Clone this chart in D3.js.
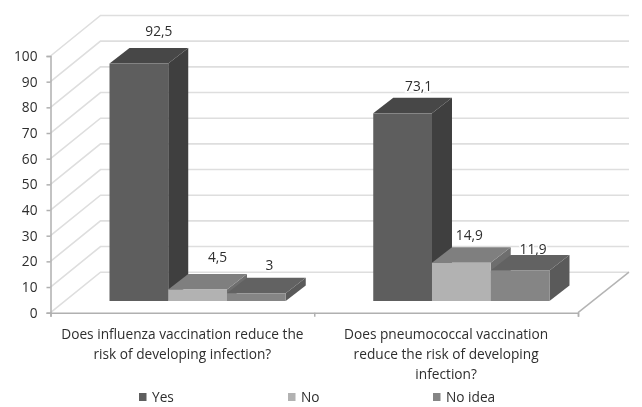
<!DOCTYPE html>
<html><head><meta charset="utf-8">
<script src="https://cdn.jsdelivr.net/npm/d3@7"></script>
<style>html,body{margin:0;background:#fff}svg{display:block;filter:blur(.35px)}text{font-family:"Open Sans",sans-serif;fill:#2e2e2e}</style>
</head><body><svg id="c" width="642" height="407"></svg>
<script>
const categories=[["Does influenza vaccination reduce the","risk of developing infection?"],["Does pneumococcal vaccination","reduce the risk of developing","infection?"]];
const seriesNames=["Yes","No","No idea"];
const yes=[92.5,73.1];
const no=[4.5,14.9];
const noIdea=[3,11.9];
const yTicks=[0,10,20,30,40,50,60,70,80,90,100];
const valueLabels=[["92,5","73,1"],["4,5","14,9"],["3","11,9"]];

const frontCols=["#5e5e5e","#b2b2b2","#858585"],topCols=["#474747","#7f7f7f","#626262"],sideCols=["#3f3f3f","#6e6e6e","#5a5a5a"];
const wall={dx:50,dy:-40.5};
const barDepth={dx:20,dy:-15.5};
const left=50.5,right=578,zeroY=312.7,hundredY=56;
const fs=13.7;
const svg=d3.select("#c");
const y=d3.scaleLinear().domain([0,100]).range([zeroY,hundredY]);
const barY=d3.scaleLinear().domain([0,100]).range([301,301-(zeroY-hundredY)]);
const x0=d3.scaleBand().domain(d3.range(categories.length)).range([left,right]);
const bw=x0.bandwidth()/4.49;
const barX=(c,s)=>x0(c)+59+s*bw;

const grid=svg.append("g").attr("fill","none").attr("stroke","#dedede").attr("stroke-width",1.6);
yTicks.forEach(t=>{
  grid.append("path").attr("d",d3.line()([[left,y(t)],[left+wall.dx,y(t)+wall.dy],[right+wall.dx+1,y(t)+wall.dy]]));
});
svg.append("path").attr("fill","none").attr("stroke","#b4b4b4").attr("stroke-width",1.5)
  .attr("d",d3.line()([[right,zeroY],[right+wall.dx+1,zeroY+wall.dy]]));

const ax=d3.axisLeft(y).tickValues(yTicks).tickSize(4).tickPadding(9);
const gy=svg.append("g").attr("transform",`translate(${left},0)`).call(ax);
gy.selectAll("path,line").attr("stroke","#b0b0b0").attr("stroke-width",1.5);
gy.selectAll("text").attr("font-size",fs).attr("font-family",'"Open Sans",sans-serif').attr("fill","#2e2e2e");
const xa=d3.axisBottom(d3.scaleLinear().domain([0,2]).range([left,right])).tickValues([0,1,2]).tickSize(4).tickFormat("");
const gx=svg.append("g").attr("transform",`translate(0,${zeroY})`).call(xa);
gx.selectAll("path,line").attr("stroke","#b0b0b0").attr("stroke-width",1.5);

const series=[yes,no,noIdea];
const nudge=[[[20,-17],[16,-12]],[[20,-17],[8,-12]],[[13,-13],[13,-6]]];
// labels sit under the bars' tops, with a white halo cutting the gridlines
series.forEach((vals,s)=>vals.forEach((v,c)=>{
  svg.append("text").attr("x",barX(c,s)+bw/2+nudge[s][c][0]).attr("y",barY(v)+barDepth.dy+nudge[s][c][1])
    .attr("dy",".35em").attr("text-anchor","middle").attr("font-size",fs)
    .attr("stroke","#fff").attr("stroke-width",3).attr("paint-order","stroke").text(valueLabels[s][c]);
}));
categories.forEach((_,c)=>{
  [0,1,2].forEach(s=>{
    const v=series[s][c],xl=barX(c,s),xr=xl+bw,yt=barY(v),yb=barY(0),d=barDepth;
    const g=svg.append("g");
    g.append("path").attr("fill",sideCols[s]).attr("d",d3.line()([[xr,yt],[xr+d.dx,yt+d.dy],[xr+d.dx,yb+d.dy],[xr,yb]])+"Z");
    g.append("path").attr("fill",topCols[s]).attr("d",d3.line()([[xl,yt],[xl+d.dx,yt+d.dy],[xr+d.dx,yt+d.dy],[xr,yt]])+"Z");
    g.append("rect").attr("x",xl).attr("y",yt).attr("width",bw).attr("height",yb-yt).attr("fill",frontCols[s]);
  });
});
categories.forEach((lines,c)=>{
  lines.forEach((l,i)=>svg.append("text").attr("x",x0(c)+x0.bandwidth()/2).attr("y",334.5+i*20)
    .attr("dy",".35em").attr("text-anchor","middle").attr("font-size",fs).text(l));
});
const legendX=d3.scaleOrdinal().domain(seriesNames).range([139,288,433]);
seriesNames.forEach((n,s)=>{
  svg.append("rect").attr("x",legendX(n)).attr("y",393).attr("width",7.5).attr("height",8).attr("fill",frontCols[s]);
  svg.append("text").attr("x",legendX(n)+13).attr("y",397).attr("dy",".35em").attr("font-size",fs).text(n);
});
</script></body></html>
